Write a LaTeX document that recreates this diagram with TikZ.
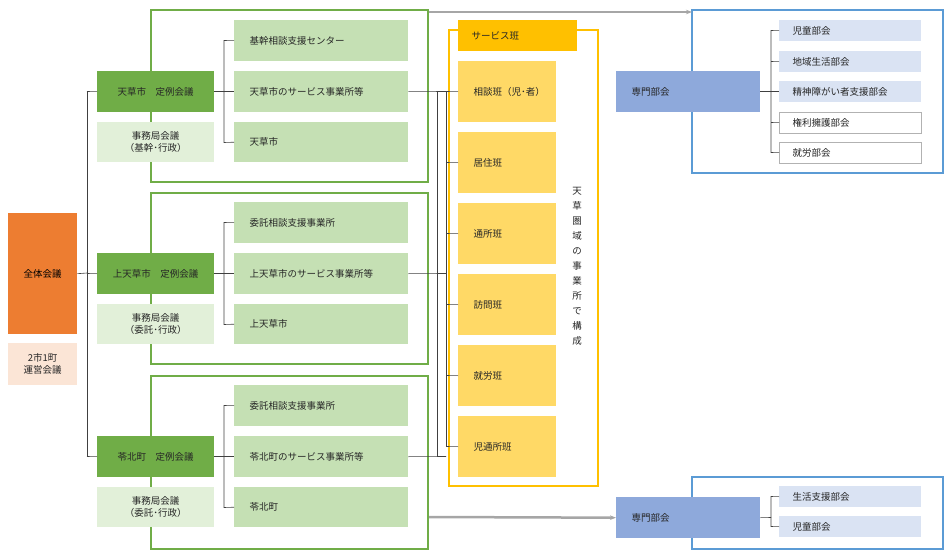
\documentclass[tikz,border=0pt]{standalone}
\usepackage{fontspec}
\usetikzlibrary{arrows.meta}
\setmainfont{Noto Sans CJK JP}
\begin{document}
\begin{tikzpicture}[x=1pt,y=-1pt,font=\fontsize{9.5}{12}\selectfont,
 ln/.style={draw=black!75,line width=0.6pt},
 tx/.style={text=black!85}]
\definecolor{dg}{HTML}{70AD47}\definecolor{lg}{HTML}{C5E0B4}\definecolor{llg}{HTML}{E2F0D9}
\definecolor{org}{HTML}{ED7D31}\definecolor{pch}{HTML}{FBE5D6}\definecolor{yo}{HTML}{FFC000}
\definecolor{yl}{HTML}{FFD966}\definecolor{bl}{HTML}{8EA9DB}\definecolor{lb}{HTML}{DAE3F3}\definecolor{fb}{HTML}{5B9BD5}
\useasboundingbox (0,0) rectangle (950,559);
\newcommand{\bx}[7]{\node[fill=#6,minimum width={(#3)-(#1)},minimum height={(#4)-(#2)},anchor=north west,inner sep=0,#7] (#5) at ({#1},{#2}) {};}
% left
\bx{8}{213}{77}{334}{all}{org}{}
\node at (all) {全体会議};
\bx{8}{343}{77}{385}{un}{pch}{}
\node[align=center,tx] at (un) {2市1町\\運営会議};
\draw[ln] (all.east) -- (87,273);
\draw[ln] (87,92) -- (87,457);
% green frames
\foreach \k/\yt/\yb in {1/10/182,2/193/364,3/376/549}{\draw[dg,line width=1.3pt] (151,\yt) rectangle (428,\yb);}
\newcommand{\grp}[6]{%
 \bx{97}{#1}{214}{#1+41}{t#6}{dg}{}
 \node[tx] at (t#6) {#2};
 \bx{97}{#1+51}{214}{#1+91}{j#6}{llg}{}
 \node[align=center,tx] at (j#6) {事務局会議\\#3};
 \bx{234}{#1-51}{408}{#1-10}{a#6}{lg}{}
 \bx{234}{#1}{408}{#1+41}{b#6}{lg}{}
 \bx{234}{#1+51}{408}{#1+91}{c#6}{lg}{}
 \node[anchor=west,tx] at ([xshift=12pt]a#6.west) {#4};
 \node[anchor=west,tx] at ([xshift=12pt]b#6.west) {#5};
 \node[anchor=west,tx] at ([xshift=12pt]c#6.west) {\csname gname#6\endcsname};
 \draw[ln] (87,#1+20.5) -- (t#6.west);
 \draw[ln] (t#6.east) -- (b#6.west);
 \draw[ln] (a#6.west) -- (224,#1-30.5) -- (224,#1+71.5) -- (c#6.west);
 \draw[ln] (b#6.east) -- (446,#1+20.5);}
\expandafter\def\csname gname1\endcsname{天草市}
\expandafter\def\csname gname2\endcsname{上天草市}
\expandafter\def\csname gname3\endcsname{苓北町}
\grp{71}{天草市\quad 定例会議}{（基幹･行政）}{基幹相談支援センター}{天草市のサービス事業所等}{1}
\grp{253}{上天草市\quad 定例会議}{（委託･行政）}{委託相談支援事業所}{上天草市のサービス事業所等}{2}
\grp{436}{苓北町\quad 定例会議}{（委託･行政）}{委託相談支援事業所}{苓北町のサービス事業所等}{3}
% service
\draw[yo,line width=1.3pt] (449,30) rectangle (598,486);
\bx{458}{20}{577}{51}{sv}{yo}{}
\node[anchor=west,tx] at ([xshift=10pt]sv.west) {サービス班};
\draw[ln] (437,92) -- (437,457);
\draw[ln] (446,92) -- (446,446);
\foreach \n/\y/\t in {1/61/相談班（児･者）,2/132/居住班,3/203/通所班,4/274/訪問班,5/345/就労班,6/416/児通所班}{
 \bx{458}{\y}{556}{\y+61}{h\n}{yl}{}
 \node[anchor=west,tx] at ([xshift=12pt]h\n.west) {\t};
 \draw[ln] (446,\y+30.5) -- (h\n.west);}
\node[tx,align=center,font=\fontsize{9.5}{15}\selectfont] (vt) at (577,266) {天\\草\\圏\\域\\の\\事\\業\\所\\で\\構\\成};
% blue
\draw[fb,line width=1.3pt] (692,10) rectangle (943,173);
\draw[fb,line width=1.3pt] (692,477) rectangle (943,549);
\bx{616}{71}{760}{112}{s1}{bl}{}
\node[anchor=west,tx] at ([xshift=12pt]s1.west) {専門部会};
\bx{616}{497}{760}{538}{s2}{bl}{}
\node[anchor=west,tx] at ([xshift=12pt]s2.west) {専門部会};
\foreach \n/\y/\t/\f/\d in {1/20/児童部会/lb/none,2/51/地域生活部会/lb/none,3/81/精神障がい者支援部会/lb/none,4/112/権利擁護部会/white/black!30,5/142/就労部会/white/black!30}{
 \bx{779}{\y}{921}{\y+21}{p\n}{\f}{draw=\d}
 \node[anchor=west,tx] at ([xshift=10pt]p\n.west) {\t};}
\draw[ln] (s1.east) -- (p3.west);
\draw[ln] (p1.west) -- (771,30.5) -- (771,152.5) -- (p5.west);
\draw[ln] (p2.west) -- (771,61.5);
\draw[ln] (p4.west) -- (771,122.5);
\bx{779}{486}{921}{507}{q1}{lb}{}
\bx{779}{516}{921}{537}{q2}{lb}{}
\node[anchor=west,tx] at ([xshift=10pt]q1.west) {生活支援部会};
\node[anchor=west,tx] at ([xshift=10pt]q2.west) {児童部会};
\draw[ln] (q1.west) -- (771,496.5) -- (771,526.5) -- (q2.west);
\draw[ln] (s2.east) -- (771,517.5);
% arrows
\draw[black!35,line width=2.5pt,-{Stealth[length=6pt]}] (429,12) -- (692,12);
\draw[black!35,line width=2.5pt,-{Stealth[length=6pt]}] (429,517) -- (s2.west);
\end{tikzpicture}
\end{document}
